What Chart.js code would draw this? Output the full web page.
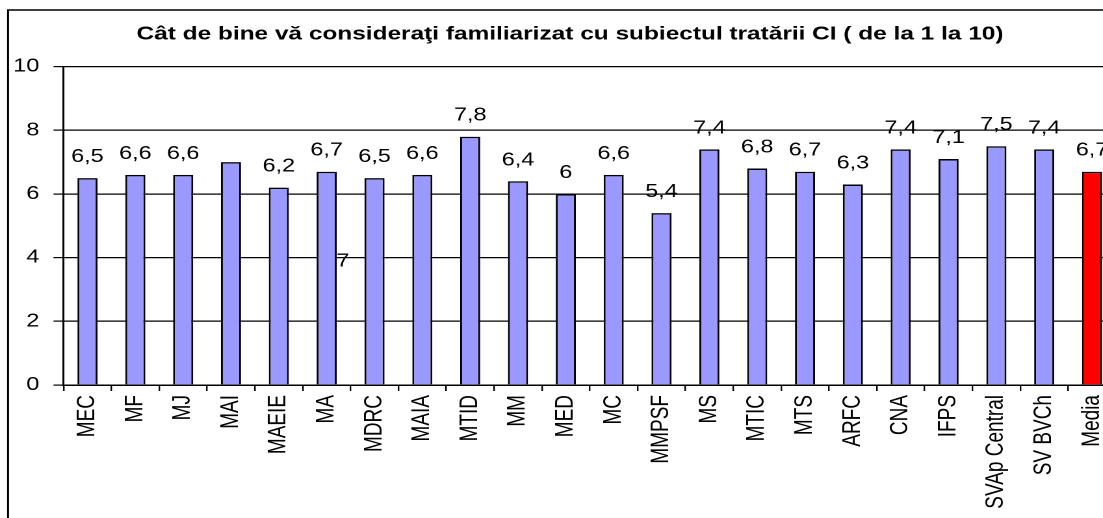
<!DOCTYPE html>
<html>
<head>
<meta charset="utf-8">
<title>Cât de bine vă consideraţi familiarizat</title>
<script src="https://cdn.jsdelivr.net/npm/chart.js@4.4.0/dist/chart.umd.min.js"></script>
<style>
    html, body { margin: 0; padding: 0; background: #fff; overflow: hidden; }
    #myChart { display: block; }
</style>
</head>
<body>
<canvas id="myChart" width="877" height="540" style="width:1140px;height:540px"></canvas>
<script>
var chartTitle = 'Cât de bine vă consideraţi familiarizat cu subiectul tratării CI ( de la 1 la 10)';

var categories = ['MEC', 'MF', 'MJ', 'MAI', 'MAEIE', 'MA', 'MDRC', 'MAIA', 'MTID', 'MM', 'MED',
    'MC', 'MMPSF', 'MS', 'MTIC', 'MTS', 'ARFC', 'CNA', 'IFPS', 'SVAp Central', 'SV BVCh', 'Media'];

var scores = [6.5, 6.6, 6.6, 7, 6.2, 6.7, 6.5, 6.6, 7.8, 6.4, 6,
    6.6, 5.4, 7.4, 6.8, 6.7, 6.3, 7.4, 7.1, 7.5, 7.4, 6.7];

var yTicks = [0, 2, 4, 6, 8, 10];

var FONT = 'Arial, "Liberation Sans", sans-serif';

document.addEventListener('DOMContentLoaded', function() {
    // the original picture is stretched sideways, so the canvas is drawn narrow and widened by css
    var ctx = document.getElementById('myChart').getContext('2d');

    var barColors = categories.map(function(c, i) {
        return i === categories.length - 1 ? '#ff0000' : '#9999ff';
    });

    // outer frame of the chart
    var framePlugin = {
        id: 'frame',
        beforeDraw: function(chart) {
            var c = chart.ctx;
            c.save();
            c.fillStyle = '#ffffff';
            c.fillRect(0, 0, chart.width, chart.height);
            c.strokeStyle = '#000';
            c.lineWidth = 1.5;
            c.strokeRect(6.2, 10, 864.6, 600);
            c.restore();
        }
    };

    // value labels over the bars (comma as decimal sign)
    var valueLabels = {
        id: 'valueLabels',
        afterDatasetsDraw: function(chart) {
            var c = chart.ctx;
            var meta = chart.getDatasetMeta(0);
            var xs = chart.scales.x, ys = chart.scales.y;
            c.save();
            c.font = '18px ' + FONT;
            c.fillStyle = '#000';
            c.textAlign = 'center';
            meta.data.forEach(function(bar, i) {
                var txt = String(scores[i]).replace('.', ',');
                if (categories[i] === 'MAI') {
                    // in the original this label slipped down between MA and MDRC
                    c.textBaseline = 'middle';
                    c.fillText(txt, xs.getPixelForValue(5.34), ys.getPixelForValue(3.88));
                    return;
                }
                c.textBaseline = 'alphabetic';
                c.fillText(txt, bar.x, bar.y - 16);
            });
            c.restore();
        }
    };

    var myChart = new Chart(ctx, {
        type: 'bar',
        data: {
            labels: categories,
            datasets: [{
                data: scores,
                backgroundColor: barColors,
                borderColor: '#000',
                borderWidth: 1.5,
                barPercentage: 0.42,
                categoryPercentage: 1
            }]
        },
        options: {
            responsive: false,
            devicePixelRatio: 2,
            animation: false,
            layout: { padding: { left: 0, right: 0, top: 23, bottom: 0 } },
            plugins: {
                legend: { display: false },
                tooltip: { enabled: false },
                title: {
                    display: true,
                    text: chartTitle,
                    color: '#000',
                    font: { family: FONT, size: 18.8, weight: 'bold', lineHeight: 1.2 },
                    padding: { top: 0, bottom: 21.1 }
                }
            },
            scales: {
                x: {
                    grid: { display: true, offset: true, drawOnChartArea: false, color: '#000', tickLength: 6, lineWidth: 1.2 },
                    border: { color: '#000', width: 1.5 },
                    ticks: {
                        color: '#000',
                        font: { family: FONT, size: 19 },
                        minRotation: 90,
                        maxRotation: 90,
                        autoSkip: false,
                        padding: 4
                    },
                    afterFit: function(scale) {
                        scale.height = 155;
                        // keep the plot a bit short of the right edge so the title stays centred on the frame
                        scale.paddingLeft = 0;
                        scale.paddingRight = 18.5;
                    }
                },
                y: {
                    min: yTicks[0],
                    max: yTicks[yTicks.length - 1],
                    afterBuildTicks: function(scale) {
                        scale.ticks = yTicks.map(function(v) { return { value: v }; });
                    },
                    grid: { color: '#000', lineWidth: 1.2, tickLength: 7.7 },
                    border: { color: '#000', width: 1.5 },
                    ticks: {
                        color: '#000',
                        font: { family: FONT, size: 18 },
                        padding: 11
                    },
                    afterFit: function(scale) { scale.width = 48.9; }
                }
            }
        },
        plugins: [framePlugin, valueLabels]
    });
});
</script>
</body>
</html>
